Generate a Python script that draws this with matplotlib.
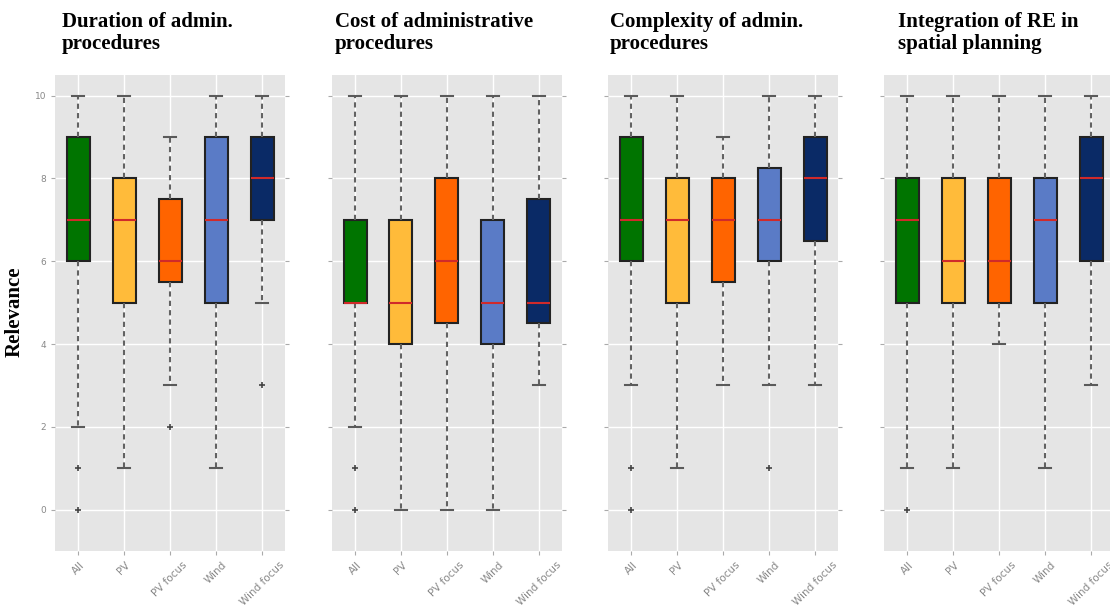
import matplotlib
matplotlib.use("Agg")
import matplotlib.pyplot as plt

# groups and panels
groups = ["All", "PV", "PV focus", "Wind", "Wind focus"]
titles = [
    "Duration of admin.\nprocedures",
    "Cost of administrative\nprocedures",
    "Complexity of admin.\nprocedures",
    "Integration of RE in\nspatial planning",
]

# per panel: lower whisker, q1, median, q3, upper whisker, fliers
duration_lo = [2, 1, 3, 1, 5]
duration_q1 = [6, 5, 5.5, 5, 7]
duration_med = [7, 7, 6, 7, 8]
duration_q3 = [9, 8, 7.5, 9, 9]
duration_hi = [10, 10, 9, 10, 10]
duration_fl = [[1, 0], [], [2], [], [3]]

cost_lo = [2, 0, 0, 0, 3]
cost_q1 = [5, 4, 4.5, 4, 4.5]
cost_med = [5, 5, 6, 5, 5]
cost_q3 = [7, 7, 8, 7, 7.5]
cost_hi = [10, 10, 10, 10, 10]
cost_fl = [[1, 0], [], [], [], []]

complexity_lo = [3, 1, 3, 3, 3]
complexity_q1 = [6, 5, 5.5, 6, 6.5]
complexity_med = [7, 7, 7, 7, 8]
complexity_q3 = [9, 8, 8, 8.25, 9]
complexity_hi = [10, 10, 9, 10, 10]
complexity_fl = [[1, 0], [], [], [1], []]

spatial_lo = [1, 1, 4, 1, 3]
spatial_q1 = [5, 5, 5, 5, 6]
spatial_med = [7, 6, 6, 7, 8]
spatial_q3 = [8, 8, 8, 8, 9]
spatial_hi = [10, 10, 10, 10, 10]
spatial_fl = [[0], [], [], [], []]

panels = [
    (duration_lo, duration_q1, duration_med, duration_q3, duration_hi, duration_fl),
    (cost_lo, cost_q1, cost_med, cost_q3, cost_hi, cost_fl),
    (complexity_lo, complexity_q1, complexity_med, complexity_q3, complexity_hi, complexity_fl),
    (spatial_lo, spatial_q1, spatial_med, spatial_q3, spatial_hi, spatial_fl),
]

box_colors = ["#007400", "#FFBB3A", "#FF6400", "#5A7BC6", "#0A2A66"]

W, H = 1110, 608
fig = plt.figure(figsize=(W / 100, H / 100), dpi=100)
fig.patch.set_facecolor("white")

lefts = [55, 332, 608, 884]
title_x = [62, 335, 610, 898]
ax_w = 230
ax_top, ax_bot = 75, 551

for i, (lo, q1, med, q3, hi, fl) in enumerate(panels):
    ax = fig.add_axes([lefts[i] / W, 1 - ax_bot / H, ax_w / W, (ax_bot - ax_top) / H])
    ax.set_facecolor("#E5E5E5")
    for s in ax.spines.values():
        s.set_visible(False)
    ax.set_axisbelow(True)
    ax.grid(True, color="white", linewidth=1.0)

    stats = []
    for j, g in enumerate(groups):
        stats.append(dict(label=g, whislo=lo[j], q1=q1[j], med=med[j],
                          q3=q3[j], whishi=hi[j], fliers=fl[j]))
    bp = ax.bxp(stats, positions=range(1, 6), widths=0.5, patch_artist=True,
                showfliers=True,
                boxprops=dict(edgecolor="#222222", linewidth=1.5),
                medianprops=dict(color="#D02A2A", linewidth=1.5),
                whiskerprops=dict(color="#626262", linewidth=1.5, linestyle=(0, (2.5, 2))),
                capprops=dict(color="#5A5A5A", linewidth=1.5),
                flierprops=dict(marker="+", markeredgecolor="#444444", markersize=5,
                                markeredgewidth=1.2))
    for patch, c in zip(bp["boxes"], box_colors):
        patch.set_facecolor(c)

    ax.set_xlim(0.5, 5.5)
    ax.set_ylim(-1, 10.5)
    ax.set_yticks(range(0, 11, 2))
    ax.tick_params(axis="both", colors="#AAAAAA", length=3, width=0.8)
    ax.tick_params(axis="y", left=True, right=True, labelsize=6.5, labelcolor="#888888")
    ax.tick_params(axis="x", labelsize=7.5, labelcolor="#888888")
    ax.set_xticklabels(groups, rotation=45, ha="center")
    if i > 0:
        ax.set_yticklabels([])

    fig.text(title_x[i] / W, 1 - 12 / H, titles[i], ha="left", va="top",
             fontsize=15, fontweight="bold", family="Liberation Serif",
             linespacing=1.15)

fig.text(15 / W, 1 - 312 / H, "Relevance", rotation=90, ha="center", va="center",
         fontsize=15, fontweight="bold", family="Liberation Serif")

fig.savefig("out.png", dpi=100)
